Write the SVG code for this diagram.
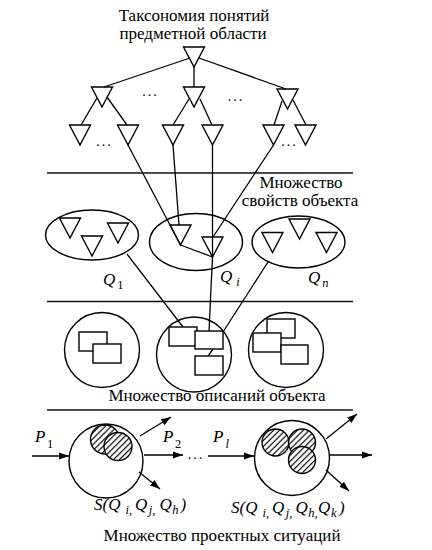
<svg xmlns="http://www.w3.org/2000/svg" width="432" height="550" viewBox="0 0 432 550">
<style>
.ln{stroke:#000;stroke-width:1.3;fill:none}
.sep{stroke:#111;stroke-width:1.7;fill:none}
.sh{fill:none;stroke:#000;stroke-width:1.4}
.bx{fill:#fff;stroke:#000;stroke-width:1.4}
.ht{fill:url(#hatch);stroke:#000;stroke-width:1.4}
.t{font-family:"Liberation Serif","Times New Roman",serif;font-size:17px;fill:#000}
.i{font-style:italic}
.sb{font-size:12.5px}
.up{font-style:normal}
.dots{font-family:"Liberation Serif","Times New Roman",serif;font-size:14px;letter-spacing:2px;fill:#000}
</style>
<defs>
<path id="tri" class="sh" d="M-10.5,0H10.5L0,20Z"/>
<pattern id="hatch" patternUnits="userSpaceOnUse" width="4.2" height="4.2" patternTransform="rotate(45)">
<rect width="4.2" height="4.2" fill="#fff"/>
<line x1="2.1" y1="0" x2="2.1" y2="4.2" stroke="#000" stroke-width="1.2"/>
</pattern>
<marker id="ar" markerWidth="10" markerHeight="8" refX="10" refY="4" orient="auto" markerUnits="userSpaceOnUse"><path d="M0,0.5L10,4L0,7.5Z" fill="#000"/></marker>
</defs>
<rect width="432" height="550" fill="#fff"/>

<g id="title">
<text class="t" x="194" y="21" text-anchor="middle">Таксономия понятий</text>
<text class="t" x="193" y="39" text-anchor="middle">предметной области</text>
</g>

<g id="separators">
<line class="sep" x1="47" y1="173" x2="353" y2="173"/>
<line class="sep" x1="47" y1="301.5" x2="353" y2="301.5"/>
<line class="sep" x1="47" y1="410" x2="353" y2="410"/>
</g>

<g id="connectors">
<line class="ln" x1="190" y1="58" x2="104" y2="87"/>
<line class="ln" x1="194" y1="67" x2="194" y2="87"/>
<line class="ln" x1="199" y1="58" x2="286" y2="89"/>
<line class="ln" x1="97" y1="98" x2="81" y2="125"/>
<line class="ln" x1="107" y1="97" x2="127" y2="125"/>
<line class="ln" x1="189" y1="99" x2="173" y2="125"/>
<line class="ln" x1="200" y1="99" x2="212" y2="125"/>
<line class="ln" x1="282" y1="101" x2="274" y2="125"/>
<line class="ln" x1="293" y1="100" x2="306" y2="125"/>
<line class="ln" x1="128" y1="145" x2="180.5" y2="245"/>
<line class="ln" x1="173" y1="145" x2="179" y2="225"/>
<polyline class="ln" points="212.5,145 212.5,257 209,331"/>
<line class="ln" x1="273.5" y1="145" x2="213" y2="237"/>
<line class="ln" x1="180.5" y1="245" x2="212.5" y2="257"/>
<line class="ln" x1="127" y1="254" x2="183" y2="327"/>
<line class="ln" x1="268" y1="262" x2="223" y2="332"/>
<line class="ln" x1="213" y1="349" x2="208" y2="356"/>
<line class="ln" x1="32" y1="456" x2="69" y2="456" marker-end="url(#ar)"/>
<line class="ln" x1="140" y1="436" x2="171" y2="417" marker-end="url(#ar)"/>
<line class="ln" x1="144" y1="455" x2="183" y2="455" marker-end="url(#ar)"/>
<line class="ln" x1="139" y1="472" x2="160" y2="489" marker-end="url(#ar)"/>
<line class="ln" x1="208" y1="456" x2="254" y2="456" marker-end="url(#ar)"/>
<line class="ln" x1="326" y1="439" x2="357" y2="414" marker-end="url(#ar)"/>
<line class="ln" x1="329" y1="455" x2="372" y2="455" marker-end="url(#ar)"/>
<line class="ln" x1="326" y1="470" x2="349" y2="491" marker-end="url(#ar)"/>
</g>

<g id="taxonomy">
<use href="#tri" x="194" y="47"/>
<use href="#tri" x="102" y="87"/>
<use href="#tri" x="194" y="87"/>
<use href="#tri" x="287.5" y="89"/>
<use href="#tri" x="80" y="125"/>
<use href="#tri" x="128" y="125"/>
<use href="#tri" x="173" y="125"/>
<use href="#tri" x="212.5" y="125"/>
<use href="#tri" x="273.5" y="125"/>
<use href="#tri" x="305.5" y="125"/>
<text class="dots" x="150.5" y="96" text-anchor="middle">...</text>
<text class="dots" x="236" y="101" text-anchor="middle">...</text>
<text class="dots" x="104.5" y="146" text-anchor="middle">...</text>
<text class="dots" x="289.5" y="146" text-anchor="middle">...</text>
</g>

<g id="properties-label">
<text class="t" x="301" y="187.5" text-anchor="middle">Множество</text>
<text class="t" x="300" y="205.5" text-anchor="middle">свойств объекта</text>
</g>

<g id="Q1">
<ellipse class="sh" cx="92" cy="235" rx="46.5" ry="25"/>
<use href="#tri" x="70" y="218"/>
<use href="#tri" x="92" y="236"/>
<use href="#tri" x="118" y="223"/>
<text class="t i" x="103" y="285">Q<tspan class="sb up" dx="2" dy="4">1</tspan></text>
</g>
<g id="Qi">
<ellipse class="sh" cx="196" cy="242" rx="46.5" ry="28.5"/>
<use href="#tri" x="180.5" y="225"/>
<use href="#tri" x="212.5" y="237"/>
<text class="t i" x="220" y="282">Q<tspan class="sb" dx="4" dy="4">i</tspan></text>
</g>
<g id="Qn">
<ellipse class="sh" cx="298.5" cy="242" rx="46.5" ry="26"/>
<use href="#tri" x="272.5" y="232.5"/>
<use href="#tri" x="299.5" y="219"/>
<use href="#tri" x="326.5" y="232.5"/>
<text class="t i" x="308" y="283">Q<tspan class="sb" dx="2" dy="4">n</tspan></text>
</g>

<g id="desc1">
<circle class="sh" cx="102" cy="350" r="37.5"/>
<rect class="bx" x="79" y="332" width="28" height="19"/>
<rect class="bx" x="93" y="344" width="28" height="19"/>
</g>
<g id="desc2">
<circle class="sh" cx="194" cy="354.5" r="37.5"/>
<rect class="bx" x="169" y="327" width="28" height="19"/>
<rect class="bx" x="195" y="331" width="28" height="18"/>
<rect class="bx" x="195" y="356" width="28" height="19"/>
</g>
<g id="desc3">
<circle class="sh" cx="286" cy="350" r="37.5"/>
<rect class="bx" x="267" y="319" width="28" height="19"/>
<rect class="bx" x="253" y="333" width="28" height="19"/>
<rect class="bx" x="281" y="345" width="27" height="19"/>
</g>
<g id="descriptions-label">
<text class="t" x="217" y="401" text-anchor="middle">Множество описаний объекта</text>
</g>

<g id="situation1">
<circle class="sh" cx="106" cy="461" r="37"/>
<circle class="ht" cx="105" cy="439.5" r="14.5"/>
<circle class="ht" cx="118" cy="446.5" r="14"/>
<text class="t i" x="94" y="510">S(Q<tspan class="sb" dx="5" dy="4">i,</tspan><tspan dx="3" dy="-4">Q</tspan><tspan class="sb" dx="1.5" dy="4">j,</tspan><tspan dx="4" dy="-4">Q</tspan><tspan class="sb" dx="0.5" dy="4">h</tspan><tspan dx="2" dy="-4">)</tspan></text>
</g>
<g id="situation2">
<circle class="sh" cx="292" cy="458" r="37.5"/>
<circle class="ht" cx="275.5" cy="442.5" r="13.5"/>
<circle class="ht" cx="302" cy="442.5" r="13.5"/>
<circle class="ht" cx="302" cy="460" r="13.5"/>
<text class="t i" x="231" y="513">S(Q<tspan class="sb" dx="5" dy="4">i,</tspan><tspan dx="3" dy="-4">Q</tspan><tspan class="sb" dx="1.5" dy="4">j,</tspan><tspan dx="3" dy="-4">Q</tspan><tspan class="sb" dx="0.5" dy="4">h,</tspan><tspan dx="0.5" dy="-4">Q</tspan><tspan class="sb" dx="0.5" dy="4">k</tspan><tspan dx="2.5" dy="-4">)</tspan></text>
</g>

<g id="flow-labels">
<text class="t i" x="35" y="442">P<tspan class="sb up" dx="1.5" dy="6">1</tspan></text>
<text class="t i" x="163" y="442">P<tspan class="sb up" dx="1.5" dy="6">2</tspan></text>
<text class="t i" x="213" y="442">P<tspan class="sb" dx="2" dy="6">l</tspan></text>
<text class="dots" x="196" y="459" text-anchor="middle">...</text>
</g>

<g id="situations-label">
<text class="t" x="222" y="541" text-anchor="middle">Множество проектных ситуаций</text>
</g>
</svg>
